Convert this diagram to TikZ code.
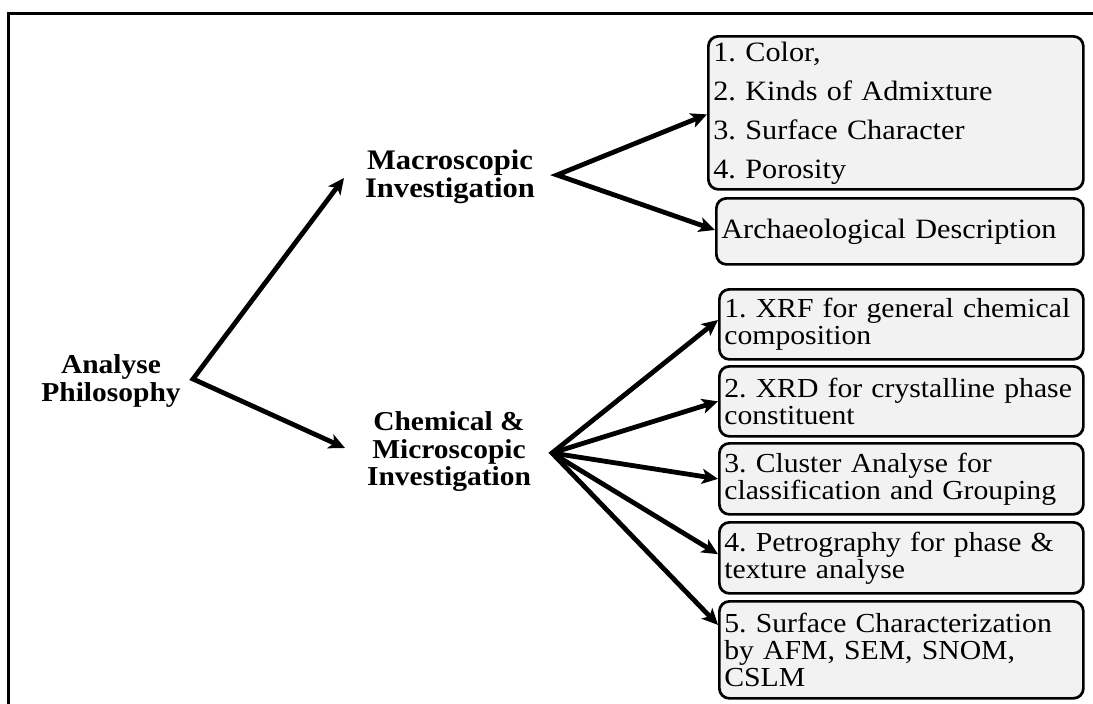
\documentclass[tikz,border=0pt]{standalone}
\usepackage{fontspec}
\setmainfont{Liberation Serif}[FakeStretch=1.08]
\usetikzlibrary{arrows.meta,calc}
\definecolor{boxgray}{HTML}{F2F2F2}
\begin{document}
\frenchspacing
\begin{tikzpicture}[x=1pt,y=-1pt,
  box/.style={draw=black, line width=2.7pt, fill=boxgray, rounded corners=10pt, anchor=north west, inner xsep=5pt, inner ysep=0pt, align=left},
  mbox/.style={box, font=\frenchspacing\fontsize{28}{39}\selectfont},
  cbox/.style={box, font=\frenchspacing\fontsize{27.5}{27}\selectfont, minimum width=364pt, text width=354pt},
  lbl/.style={font=\bfseries\fontsize{27.3}{27.5}\selectfont, align=center, inner sep=0pt},
  arr/.style={line width=4.8pt, -{Stealth[length=16pt,width=15pt,inset=4pt]}},
  arrs/.style={line width=4.8pt, {Stealth[length=16pt,width=15pt,inset=4pt]}-{Stealth[length=16pt,width=15pt,inset=4pt]}, line join=miter, miter limit=20}]
\useasboundingbox (0,0) rectangle (1093,704);
% frame
\draw[line width=2.7pt, line join=miter] (8.7,704) -- (8.7,13.7) -- (1093,13.7);
% labels
\node[lbl] (ap) at (111,381) {Analyse\\Philosophy};
\node[lbl, font=\bfseries\fontsize{28.3}{28.5}\selectfont] (mi) at (450,177) {Macroscopic\\Investigation};
\node[lbl] (ci) at (449,452) {Chemical \&\\Microscopic\\Investigation};
% boxes
\node[mbox, minimum width=375pt, text width=365pt, minimum height=153pt] (m1) at (707,35) {1. Color,\\2. Kinds of Admixture\\3. Surface Character\\4. Porosity};
\node[mbox, minimum width=367pt, text width=357pt, minimum height=66pt] (m2) at (715,197) {Archaeological Description};
\node[cbox, minimum height=70pt] (c1) at (718,288) {1. XRF for general chemical\\composition};
\node[cbox, minimum height=70pt] (c2) at (718,365) {2. XRD for crystalline phase\\constituent};
\node[cbox, minimum height=71pt] (c3) at (718,442) {3. Cluster Analyse for\\classification and Grouping};
\node[cbox, minimum height=71pt] (c4) at (718,521) {4. Petrography for phase \&\\texture analyse};
\node[cbox, minimum height=97pt] (c5) at (718,600) {5. Surface Characterization\\by AFM, SEM, SNOM,\\CSLM};
% branch points
\coordinate (av) at (193,379);
\coordinate (mv) at (557,175);
\coordinate (cv) at (552,453);
\coordinate (mtip) at (344,178);
\coordinate (ctip) at (345,448);
% connectors
\draw[arrs] ($(m1.north west)!0.51!(m1.south west)$) -- (mv) -- ($(m2.north west)!0.48!(m2.south west)$);
\draw[arrs] (mtip) -- (av) -- (ctip);
\draw[arrs] ($(c1.north west)!0.44!(c1.south west)$) -- (cv) -- ($(c5.north west)!0.25!(c5.south west)$);
\draw[arr] (cv) -- ($(c2.north west)!0.5!(c2.south west)$);
\draw[arr] (cv) -- ($(c3.north west)!0.5!(c3.south west)$);
\draw[arr] (cv) -- ($(c4.north west)!0.45!(c4.south west)$);
\end{tikzpicture}
\end{document}
